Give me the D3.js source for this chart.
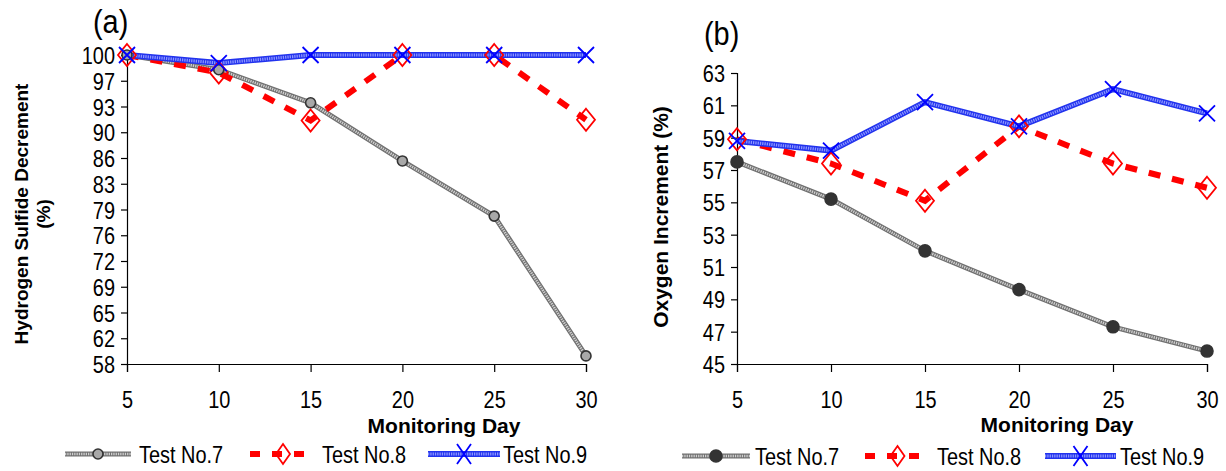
<!DOCTYPE html>
<html>
<head>
<meta charset="utf-8">
<script src="https://cdn.jsdelivr.net/npm/d3@7"></script>
<style>
  body { margin: 0; background: #fff; }
  svg text { fill: #000; }
  .nar { font-family: "Liberation Sans", Arial, sans-serif; font-size: 24px; }
  .ttl { font-family: "Liberation Sans", Arial, sans-serif; font-weight: bold; }
  .xttl { font-family: "Liberation Sans", Arial, sans-serif; font-weight: bold; font-size: 21px; }
</style>
</head>
<body>
<div id="chart"></div>
<script>
// monitoring days
const days = [5, 10, 15, 20, 25, 30];
const seriesNames = ["Test No.7", "Test No.8", "Test No.9"];

// (a) hydrogen sulfide decrement (%)
const h2sTest7 = [100, 98.0, 93.5, 85.6, 78.1, 59.1];
const h2sTest8 = [100, 97.6, 91.1, 100, 100, 91.2];
const h2sTest9 = [100, 98.9, 100, 100, 100, 100];
const h2sTicks = [58, 61.5, 65, 68.5, 72, 75.5, 79, 82.5, 86, 89.5, 93, 96.5, 100];

// (b) oxygen increment (%)
const o2Test7 = [57.5, 55.2, 52.0, 49.6, 47.3, 45.8];
const o2Test8 = [58.9, 57.4, 55.1, 59.7, 57.4, 55.9];
const o2Test9 = [58.8, 58.2, 61.2, 59.7, 62.0, 60.5];
const o2Ticks = [45, 47, 49, 51, 53, 55, 57, 59, 61, 63];

const NARROW = 0.83;

const svg = d3.select("#chart").append("svg")
    .attr("width", 1226)
    .attr("height", 471);

// narrow text helper (the source font is a condensed sans)
function narrowText(sel, x, y, txt, anchor) {
    return sel.append("text").attr("class", "nar")
        .attr("text-anchor", anchor || "start")
        .attr("transform", `translate(${x},${y}) scale(${NARROW},1)`)
        .attr("dy", "0.36em")
        .text(txt);
}

function drawPanel(cfg) {
    let g = svg.append("g");

    let x = d3.scaleLinear().domain([5, 30]).range([cfg.left, cfg.right]);
    let y = d3.scaleLinear().domain(cfg.yDomain).range([cfg.bottom, cfg.top]);

    // y axis
    let yAxis = d3.axisLeft(y).tickValues(cfg.yTicks).tickSizeOuter(0).tickSize(6)
        .tickFormat(d => Math.round(d));
    let yg = g.append("g").attr("transform", `translate(${cfg.left},0)`).call(yAxis);
    yg.selectAll("text").attr("class", "nar").attr("x", 0).attr("dy", "0.36em")
        .attr("transform", `translate(-12,0) scale(${NARROW},1)`);

    // x axis
    let xAxis = d3.axisBottom(x).tickValues(days).tickSizeOuter(0).tickSize(8);
    let xg = g.append("g").attr("transform", `translate(0,${cfg.bottom})`).call(xAxis);
    xg.selectAll("text").attr("class", "nar").attr("y", 0).attr("dy", "0.36em")
        .attr("transform", `translate(0,${cfg.xLblY}) scale(${NARROW},1)`);

    g.selectAll(".domain, .tick line").attr("stroke", "#000").attr("stroke-width", 1.2);
    g.selectAll(".tick text").attr("font-family", null).attr("font-size", null).attr("fill", "#000");

    let line = d3.line().x((d, i) => x(days[i])).y(d => y(d));

    // Test No.7 - grey hatched line
    g.append("path").attr("d", line(cfg.s7)).attr("fill", "none")
        .attr("stroke", "#707070").attr("stroke-width", 5);
    g.append("path").attr("d", line(cfg.s7)).attr("fill", "none")
        .attr("stroke", "#d0d0d0").attr("stroke-width", 2.6).attr("stroke-dasharray", "1.3,1");

    // Test No.8 - red dashed
    g.append("path").attr("d", line(cfg.s8)).attr("fill", "none")
        .attr("stroke", "#ff0000").attr("stroke-width", 6).attr("stroke-dasharray", "12,12");

    // Test No.9 - blue hatched line
    g.append("path").attr("d", line(cfg.s9)).attr("fill", "none")
        .attr("stroke", "#2233ee").attr("stroke-width", 6);
    g.append("path").attr("d", line(cfg.s9)).attr("fill", "none")
        .attr("stroke", "#8c96ff").attr("stroke-width", 3).attr("stroke-dasharray", "1.3,1");

    // markers
    g.selectAll(".m7").data(cfg.s7).join("circle")
        .attr("cx", (d, i) => x(days[i])).attr("cy", d => y(d))
        .attr("r", cfg.r7).attr("fill", cfg.fill7).attr("stroke", "#333").attr("stroke-width", 1.6);

    g.selectAll(".m8").data(cfg.s8).join("path")
        .attr("transform", (d, i) => `translate(${x(days[i])},${y(d)})`)
        .attr("d", "M0,-11L9,0L0,11L-9,0Z")
        .attr("fill", "none").attr("stroke", "#ff0000").attr("stroke-width", 1.8);

    g.selectAll(".m9").data(cfg.s9).join("path")
        .attr("transform", (d, i) => `translate(${x(days[i])},${y(d)})`)
        .attr("d", "M-8,-8L8,8M-8,8L8,-8")
        .attr("fill", "none").attr("stroke", "#0000ff").attr("stroke-width", 1.8);

    // panel label
    g.append("text").attr("class", "nar").style("font-size", "34px")
        .attr("transform", `translate(${cfg.panX},${cfg.panY}) scale(0.85,1)`).text(cfg.panel);

    // axis titles
    let yt = g.append("text").attr("class", "ttl").attr("text-anchor", "middle")
        .style("font-size", cfg.ytSize + "px")
        .attr("transform", `translate(${cfg.ytX},${cfg.ytY}) rotate(-90)`);
    cfg.yTitle.forEach((t, i) => {
        yt.append("tspan").attr("x", 0).attr("dy", i === 0 ? 0 : 22).text(t);
    });
    g.append("text").attr("class", "xttl").attr("text-anchor", "middle")
        .attr("x", cfg.xtX).attr("y", cfg.xtY).text("Monitoring Day");

    // legend
    let L = cfg.leg;
    let lg = g.append("g").attr("transform", `translate(0,${L.y})`);
    // Test No.7
    lg.append("line").attr("x1", L.l7[0]).attr("x2", L.l7[1]).attr("stroke", "#707070").attr("stroke-width", 5);
    lg.append("line").attr("x1", L.l7[0]).attr("x2", L.l7[1]).attr("stroke", "#d0d0d0").attr("stroke-width", 2.6).attr("stroke-dasharray", "1.3,1");
    lg.append("circle").attr("cx", (L.l7[0] + L.l7[1]) / 2).attr("r", cfg.r7).attr("fill", cfg.fill7).attr("stroke", "#333").attr("stroke-width", 1.6);
    narrowText(lg, L.t7, 0, seriesNames[0]);
    // Test No.8
    lg.append("line").attr("x1", L.l8[0]).attr("x2", L.l8[1]).attr("stroke", "#ff0000").attr("stroke-width", 6)
        .attr("stroke-dasharray", "10,12");
    lg.append("path").attr("transform", `translate(${(L.l8[0] + L.l8[1]) / 2},0)`).attr("d", "M0,-10L7,0L0,10L-7,0Z")
        .attr("fill", "none").attr("stroke", "#ff0000").attr("stroke-width", 1.8);
    narrowText(lg, L.t8, 0, seriesNames[1]);
    // Test No.9
    lg.append("line").attr("x1", L.l9[0]).attr("x2", L.l9[1]).attr("stroke", "#2233ee").attr("stroke-width", 6);
    lg.append("line").attr("x1", L.l9[0]).attr("x2", L.l9[1]).attr("stroke", "#8c96ff").attr("stroke-width", 3).attr("stroke-dasharray", "1.3,1");
    lg.append("path").attr("transform", `translate(${(L.l9[0] + L.l9[1]) / 2},0)`).attr("d", "M-7,-10L7,10M-7,10L7,-10")
        .attr("fill", "none").attr("stroke", "#0000ff").attr("stroke-width", 1.8);
    narrowText(lg, L.t9, 0, seriesNames[2]);
}

drawPanel({
    left: 127, right: 586, top: 55, bottom: 364, xLblY: 35,
    yDomain: [58, 100], yTicks: h2sTicks,
    s7: h2sTest7, s8: h2sTest8, s9: h2sTest9,
    r7: 5, fill7: "#a8a8a8",
    panel: "(a)", panX: 93, panY: 33,
    yTitle: ["Hydrogen Sulfide Decrement", "(%)"], ytSize: 19, ytX: 28, ytY: 214,
    xtX: 444, xtY: 433,
    leg: { y: 454, l7: [65, 131], t7: 139, l8: [250, 316], t8: 322, l9: [428, 500], t9: 503 }
});

drawPanel({
    left: 737, right: 1207, top: 73, bottom: 364, xLblY: 35,
    yDomain: [45, 63], yTicks: o2Ticks,
    s7: o2Test7, s8: o2Test8, s9: o2Test9,
    r7: 6, fill7: "#333",
    panel: "(b)", panX: 704, panY: 45,
    yTitle: ["Oxygen Increment (%)"], ytSize: 21, ytX: 668, ytY: 217,
    xtX: 1057, xtY: 432,
    leg: { y: 456, l7: [682, 750], t7: 755, l8: [865, 930], t8: 937, l9: [1045, 1116], t9: 1120 }
});
</script>
</body>
</html>
